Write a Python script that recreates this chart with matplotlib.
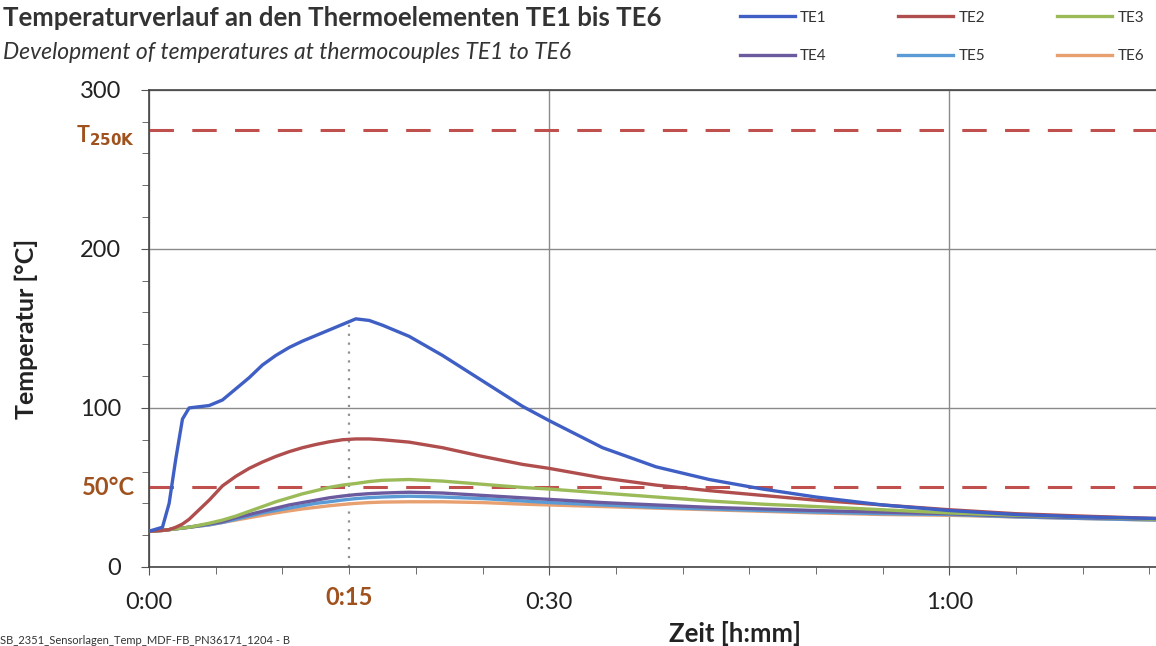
import matplotlib
matplotlib.use("Agg")
import matplotlib.pyplot as plt
from matplotlib.ticker import MultipleLocator, FixedLocator

plt.rcParams['font.family'] = ['Lato', 'DejaVu Sans']

# time in minutes
t_min = [0, 1.0, 1.5, 2.0, 2.5, 3.0, 4.5, 5.5, 6.5, 7.5, 8.5, 9.5, 10.5, 11.5,
         12.5, 13.5, 14.5, 15.5, 16.5, 17.5, 19.5, 22, 25, 28, 30, 34, 38, 42,
         46, 50, 55, 60, 65, 70, 75.5]

te1 = [22.5, 25, 40, 68, 93, 100, 101.5, 105, 112, 119, 127, 133, 138, 142,
       145.5, 149, 152.5, 156, 155, 152, 145, 133, 117, 101, 92, 75, 63, 55,
       49, 44, 39, 35.5, 33, 31.5, 30.5]
te2 = [22.5, 23, 23.5, 25, 27, 30, 42, 51, 57, 62, 66, 69.5, 72.5, 75,
       77, 78.7, 80, 80.5, 80.5, 80, 78.5, 75, 69.5, 64.5, 62, 56, 51.5, 48,
       45, 42, 39, 36, 33.5, 32, 30.5]
te3 = [22.5, 23, 23.5, 24, 24.5, 25, 27.5, 29.5, 32, 35, 38, 41, 43.5, 46,
       48, 50, 51.5, 52.5, 53.7, 54.5, 55, 54, 52, 50, 49, 46.5, 44, 41.5,
       39.5, 38, 36, 34, 32.5, 31.5, 30]
te4 = [22.5, 23, 23.5, 24, 24.5, 25, 27, 28.5, 31, 33, 35, 37, 39, 40.5,
       42, 43.5, 44.6, 45.5, 46.1, 46.5, 47, 46.5, 45, 43.5, 42.5, 40.5, 39, 37.5,
       36.5, 35.5, 34.5, 33.5, 32, 31, 30]
te5 = [22.5, 23, 23.5, 24, 24.5, 25, 26.5, 28, 30, 32, 34, 35.5, 37, 38.5,
       40, 41, 42.1, 43, 43.6, 44, 44.5, 44, 43, 41.5, 40.5, 39, 37.5, 36.5,
       35.5, 34.5, 33.5, 33, 31.5, 30.5, 29.5]
te6 = [22.5, 23, 23.5, 24, 24.5, 25, 26.5, 28, 29.5, 31, 32.5, 34, 35.3, 36.5,
       37.5, 38.5, 39.3, 40, 40.5, 40.8, 41, 41, 40.5, 39.5, 39, 38, 37, 36,
       35, 34, 33, 32.5, 31.5, 30.5, 29.5]

series_names = ['TE1', 'TE2', 'TE3', 'TE4', 'TE5', 'TE6']
series_vals = [te1, te2, te3, te4, te5, te6]
colors = ['#3F5FC4', '#B04E4E', '#9BBB59', '#6B5B9E', '#5B9BD5', '#E8A070']

t250k = 275
limit50 = 50
mark_time = 15

x_ticks = [0, 30, 60]
x_labels = ['0:00', '0:30', '1:00']
y_ticks = [0, 100, 200, 300]

fig = plt.figure(figsize=(11.56, 6.46), dpi=100)
ax = fig.add_axes([0.129, 0.1223, 0.871, 0.7387])

lines = {}
# draw in reverse so TE1 is on top
for name, vals, c in reversed(list(zip(series_names, series_vals, colors))):
    ln, = ax.plot(t_min, vals, color=c, lw=2.4, label=name, zorder=3,
                  solid_joinstyle='round')
    lines[name] = ln

ax.axhline(t250k, color='#C0504D', lw=2.2, dashes=(8, 6), zorder=2)
ax.axhline(limit50, color='#C0504D', lw=2.2, dashes=(8, 6), zorder=2)
ax.vlines(mark_time, 0, 156, colors='#909090', lw=1.6, linestyles=(0, (1, 3)), zorder=2)

ax.set_xlim(0, 75.5)
ax.set_ylim(0, 300)
ax.xaxis.set_major_locator(FixedLocator(x_ticks))
ax.set_xticklabels(x_labels)
ax.xaxis.set_minor_locator(MultipleLocator(5))
ax.yaxis.set_major_locator(FixedLocator(y_ticks))
ax.yaxis.set_minor_locator(MultipleLocator(20))
ax.grid(True, which='major', color='#8a8a8a', lw=1.0)
ax.set_axisbelow(True)
ax.tick_params(axis='both', which='major', labelsize=17, length=6, color='#555555',
               labelcolor='#222222')
ax.tick_params(axis='y', which='major', pad=14)
ax.tick_params(axis='x', which='major', pad=12)
ax.tick_params(axis='both', which='minor', length=5, color='#555555')
ax.spines['right'].set_visible(False)
for s in ['left', 'bottom', 'top']:
    ax.spines[s].set_color('#444444')
    ax.spines[s].set_linewidth(1.2)

brown = '#A0521E'
ax.text(mark_time, -0.063, '0:15', transform=ax.get_xaxis_transform(), ha='center',
        va='center', color=brown, fontsize=17, fontweight='bold')
ax.text(-0.014, limit50, '50°C', transform=ax.get_yaxis_transform(), ha='right',
        va='center', color=brown, fontsize=17, fontweight='bold')
ax.text(-0.014, t250k - 4, r'T$_{\mathbf{250K}}$', transform=ax.get_yaxis_transform(),
        ha='right', va='center', color=brown, fontsize=15.5, fontweight='bold')

ax.set_ylabel('Temperatur [°C]', fontsize=18, fontweight='bold', color='#222222')
ax.yaxis.set_label_coords(-0.11, 0.5)
fig.text(0.636, 0.02, 'Zeit [h:mm]', ha='center', va='center', fontsize=18.5,
         fontweight='bold', color='#222222')

fig.text(0.003, 0.972, 'Temperaturverlauf an den Thermoelementen TE1 bis TE6',
         ha='left', va='center', fontsize=18.5, fontweight='bold', color='#333333')
fig.text(0.003, 0.918, 'Development of temperatures at thermocouples TE1 to TE6',
         ha='left', va='center', fontsize=16.5, style='italic', color='#333333')
fig.text(0.0, 0.0, 'SB_2351_Sensorlagen_Temp_MDF-FB_PN36171_1204 - B',
         ha='left', va='bottom', fontsize=8, color='#333333')

order = ['TE1', 'TE4', 'TE2', 'TE5', 'TE3', 'TE6']
leg = fig.legend([lines[n] for n in order], order, ncol=3, loc='upper left',
                 bbox_to_anchor=(0.628, 1.005), frameon=False, fontsize=11,
                 handlelength=3.6, columnspacing=4.7, labelspacing=1.6,
                 handletextpad=0.35)
for txt in leg.get_texts():
    txt.set_color('#333333')

fig.savefig('out.png', dpi=100)
